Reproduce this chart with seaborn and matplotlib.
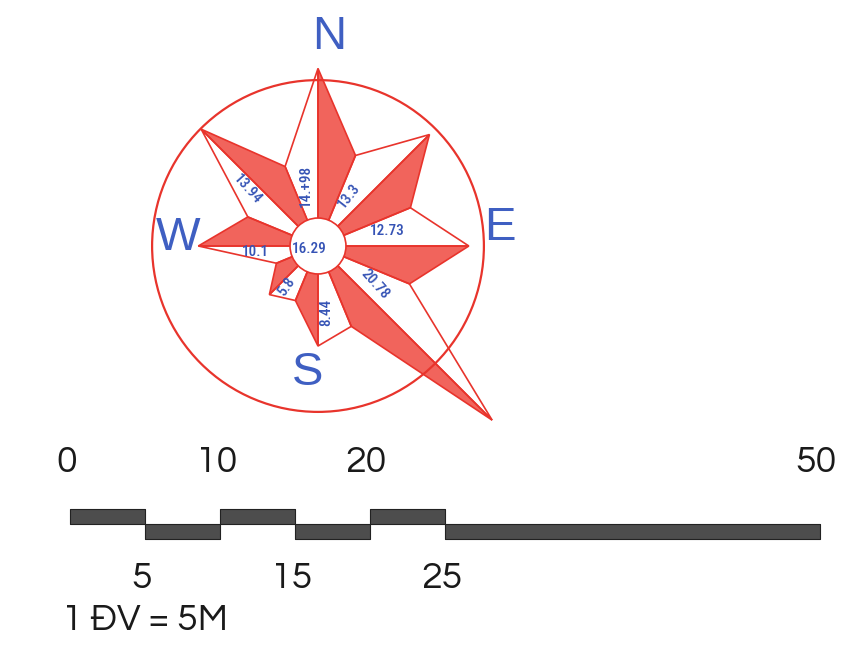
import numpy as np
import matplotlib
matplotlib.use("Agg")
import matplotlib.pyplot as plt
import seaborn as sns
from matplotlib.patches import Circle

# ---------------- data ----------------
directions = ["N", "NE", "E", "SE", "S", "SW", "W", "NW"]
angles_deg = [0, 45, 90, 135, 180, 225, 270, 315]          # clockwise from north
freq = [14.98, 13.3, 12.73, 20.78, 8.44, 5.8, 10.1, 13.94]   # % per direction
freq_labels = ["14.+98", "13.3", "12.73", "20.78", "8.44", "5.8", "10.1", "13.94"]
calm = 16.29
calm_label = "16.29"
# shoulder radius of the star between direction i and i+1 (drawing shape)
shoulder = [8.27, 8.44, 8.35, 7.34, 4.98, 3.80, 6.41, 7.26]

scale_major = [0, 10, 20, 50]       # labels above the scale bar
scale_minor = [5, 15, 25]           # labels below the scale bar
scale_up = [(0, 5), (10, 5), (20, 5)]
scale_down = [(5, 5), (15, 5), (25, 25)]
scale_note = "1 ĐV = 5M"

# ---------------- style ----------------
sns.set_theme(style="white")
RED_FILL = "#f1645c"
RED_LINE = "#e8342c"
BLUE = "#3f5fc2"
NUM_BLUE = "#3553b5"
BAR = "#4d4d4d"

W_PX, H_PX = 848, 669
fig = plt.figure(figsize=(W_PX / 100, H_PX / 100), dpi=100)
fig.patch.set_facecolor("white")

# rose axes: 1 unit of frequency = S pixels, centre at (cx, cy) px from top-left
S = 11.85
cx, cy = 318, 246
ax = fig.add_axes([0, 0, 1, 1])
ax.set_xlim(-cx / S, (W_PX - cx) / S)
ax.set_ylim(-(H_PX - cy) / S, cy / S)
ax.axis("off")

def pol(r, a):
    t = np.deg2rad(a)
    return r * np.sin(t), r * np.cos(t)

n = len(freq)
for i in range(n):
    a = angles_deg[i]
    tip = pol(freq[i], a)
    sh_next = pol(shoulder[i], a + 22.5)
    sh_prev = pol(shoulder[i - 1], a - 22.5)
    # filled half (clockwise side)
    ax.fill([0, tip[0], sh_next[0]], [0, tip[1], sh_next[1]],
            facecolor=RED_FILL, edgecolor=RED_LINE, lw=1.2, zorder=2)
    # white half (counter-clockwise side)
    ax.fill([0, sh_prev[0], tip[0]], [0, sh_prev[1], tip[1]],
            facecolor="none", edgecolor=RED_LINE, lw=1.2, zorder=2)

ax.add_patch(Circle((0, 0), 14.0, facecolor="none", edgecolor=RED_LINE, lw=1.6, zorder=3))
ax.add_patch(Circle((0, 0), 2.36, facecolor="white", edgecolor=RED_LINE, lw=1.2, zorder=4))

num_font = dict(family=["Roboto Condensed", "DejaVu Sans"], fontsize=11,
                fontweight="medium", color=NUM_BLUE, ha="center", va="center", zorder=5)
label_r = [5.16, 4.97, 5.96, 5.78, 5.69, 4.39, 5.34, 7.62]
label_da = [-11.3, -13.2, -12.3, -11.3, -7.0, -7.0, -5.5, -5.9]
label_rot = [90, 52, 0, -48, 90, 55, 0, -48]
for i in range(n):
    x, y = pol(label_r[i], angles_deg[i] + label_da[i])
    ax.text(x, y, freq_labels[i], rotation=label_rot[i],
            rotation_mode="anchor", **num_font)
ax.text(-0.76, -0.25, calm_label, **num_font)

card_font = dict(family=["Liberation Sans", "DejaVu Sans"], fontsize=34,
                 color=BLUE, ha="center", va="center", zorder=5)
card_pos = {"N": (0.93, 17.64), "E": (15.36, 1.52), "S": (-0.84, -10.72), "W": (-11.81, 0.68)}
for k, (x, y) in card_pos.items():
    ax.text(x, y, k, **card_font)

# scale-bar axes: metres horizontally (15 px / m, 0 m at x=70 px), pixels vertically
ax2 = fig.add_axes([0, 0, 1, 1])
ax2.patch.set_alpha(0)
PXM = 15.0
x0 = 70
ax2.set_xlim(-x0 / PXM, (W_PX - x0) / PXM)
ax2.set_ylim(H_PX, 0)
ax2.axis("off")
ax2.broken_barh(scale_up, (509, 15), facecolor=BAR, edgecolor="#222222", lw=0.8)
ax2.broken_barh(scale_down, (524, 15), facecolor=BAR, edgecolor="#222222", lw=0.8)

sb_font = dict(family=["Questrial", "Didact Gothic", "DejaVu Sans"], fontsize=27,
               color="#1a1a1a", va="center", ha="center")
for v in scale_major:
    ax2.text(v - 0.25, 462, str(v), **sb_font)
for v in scale_minor:
    ax2.text(v - 0.2, 579, str(v), **sb_font)
ax2.text(-8 / PXM, 621, scale_note, **{**sb_font, "ha": "left"})

fig.savefig("out.png", dpi=100, facecolor="white")
